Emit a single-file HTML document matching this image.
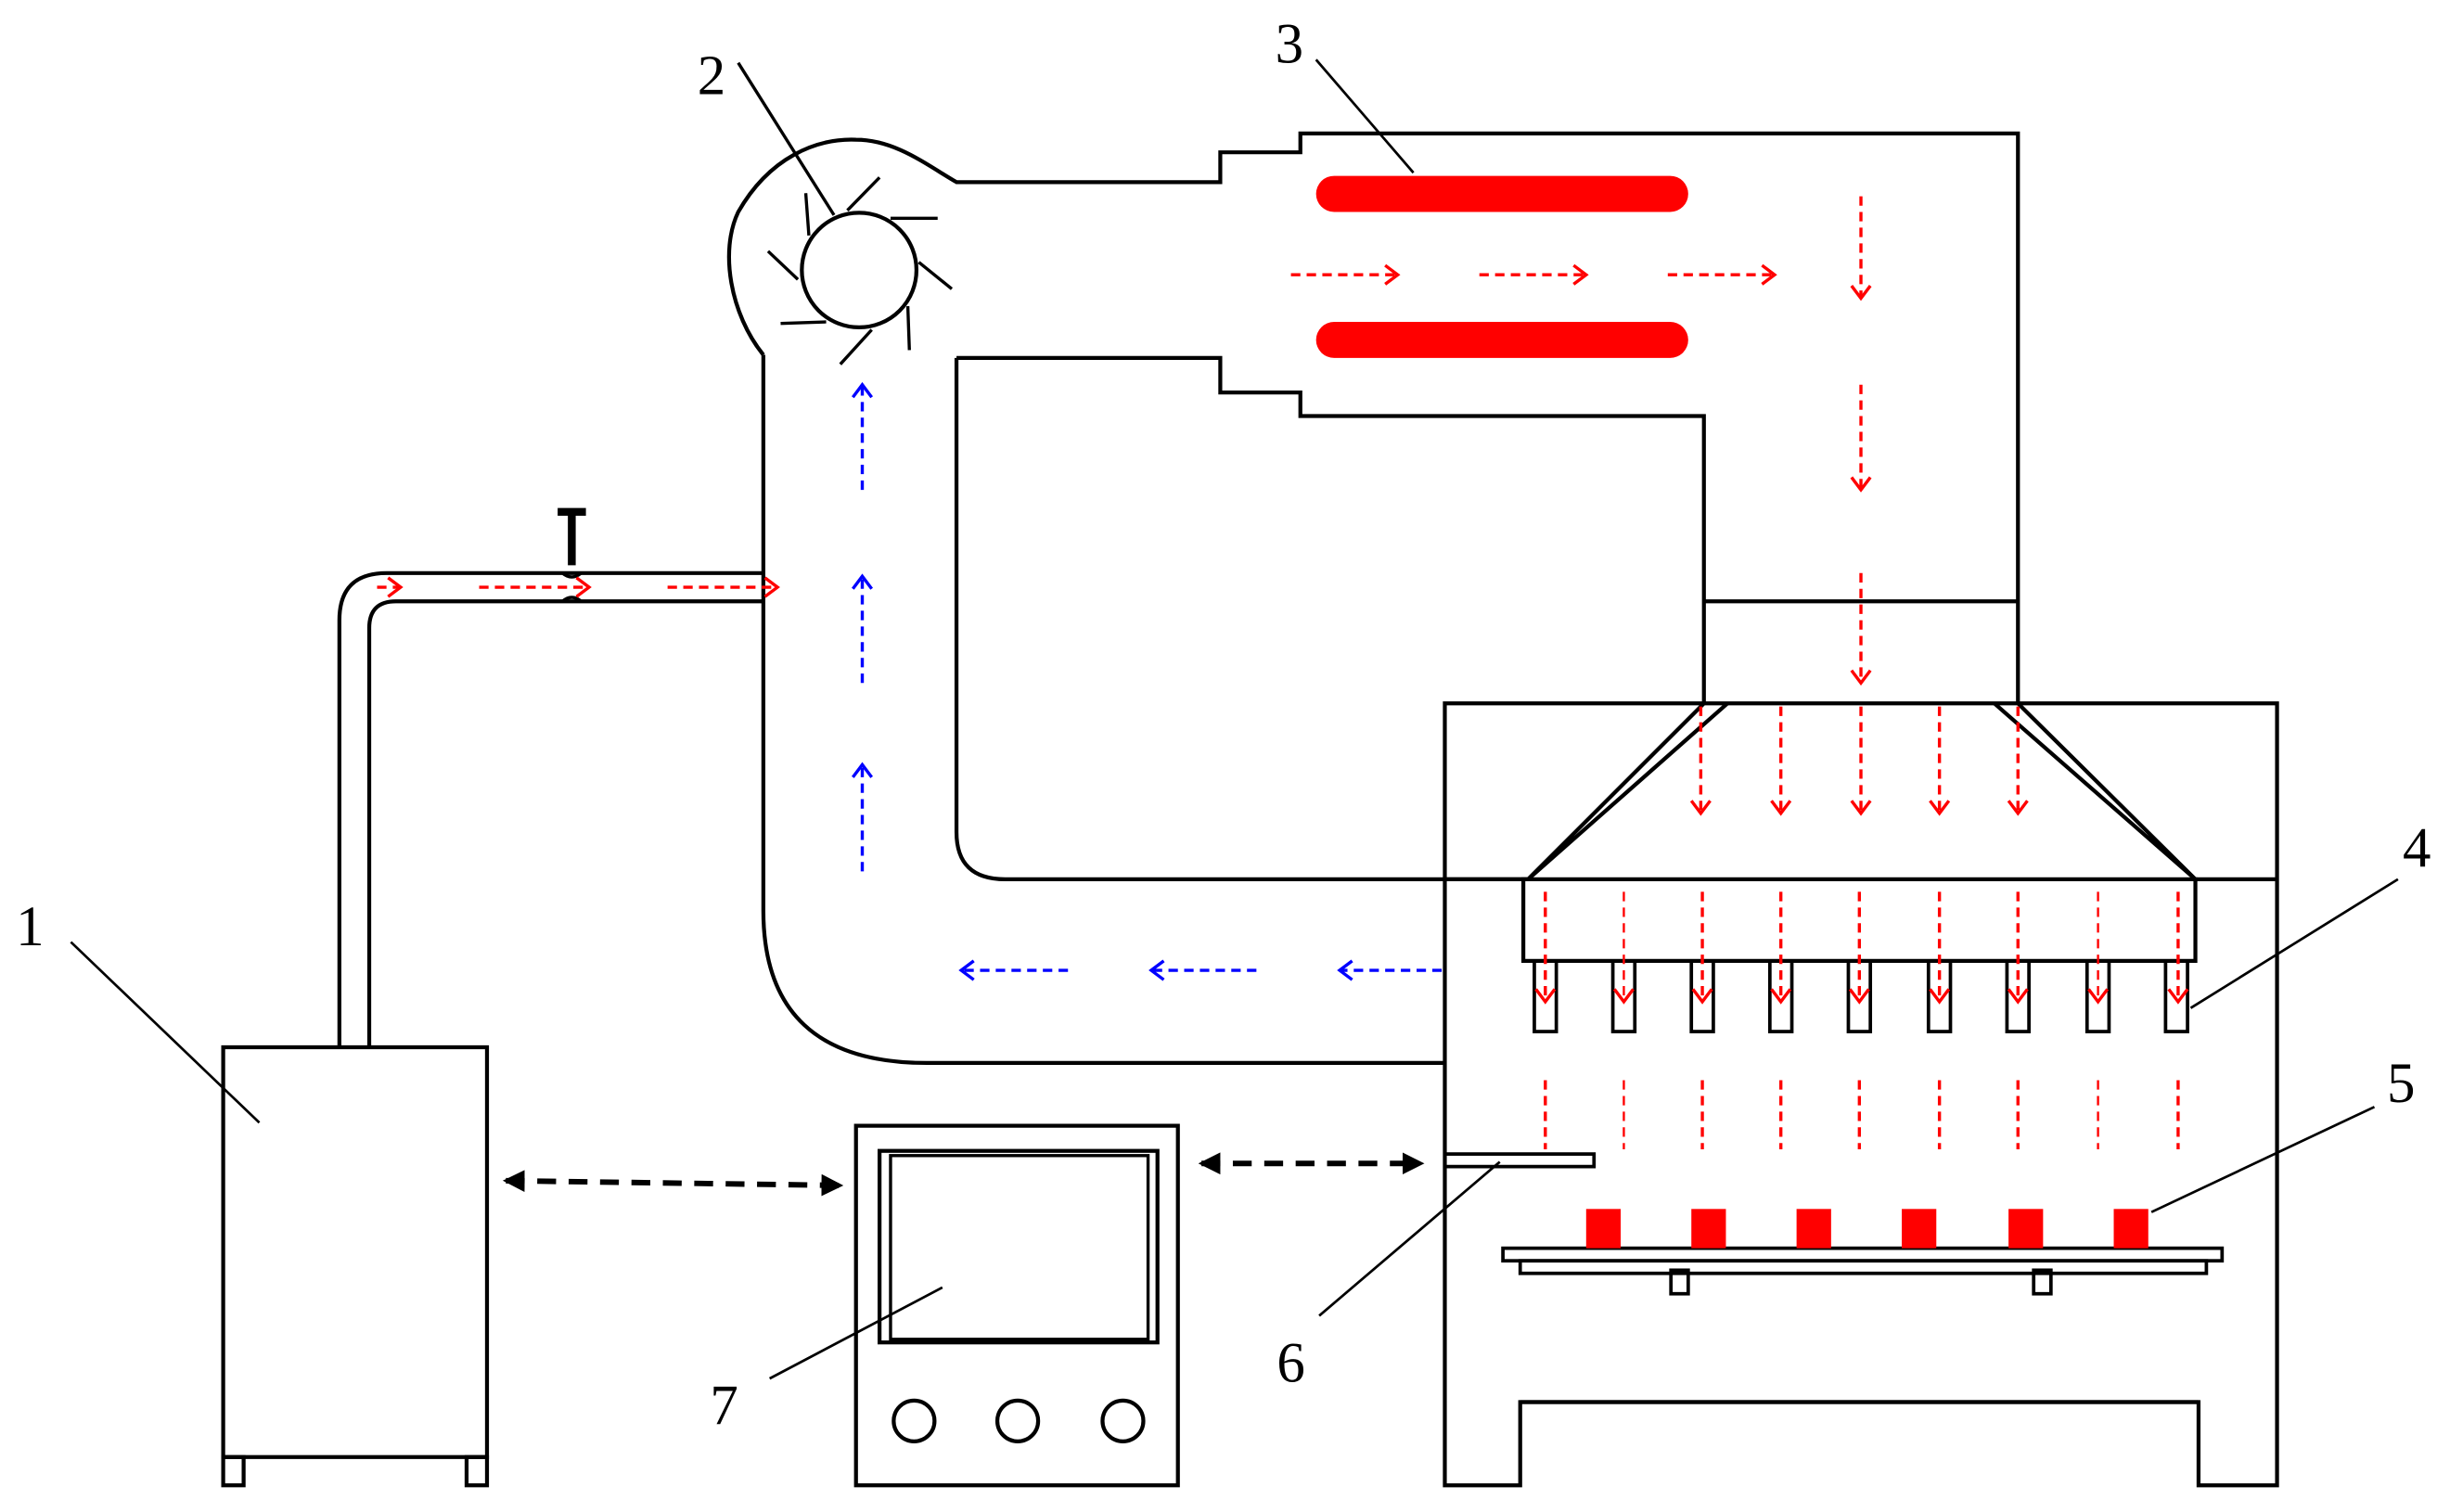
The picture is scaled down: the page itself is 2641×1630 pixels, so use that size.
<!DOCTYPE html>
<html><head><meta charset="utf-8"><style>html,body{margin:0;padding:0;background:#fff}svg{display:block}</style></head><body>
<svg width="2641" height="1630" viewBox="0 0 1560 963" xmlns="http://www.w3.org/2000/svg">
<defs>
<marker id="r" markerUnits="userSpaceOnUse" markerWidth="20" markerHeight="20" refX="10" refY="8" orient="auto"><path d="M2,2 L10,8 L2,14" fill="none" stroke="#f00" stroke-width="2"/></marker>
<marker id="b" markerUnits="userSpaceOnUse" markerWidth="20" markerHeight="20" refX="10" refY="8" orient="auto"><path d="M2,2 L10,8 L2,14" fill="none" stroke="#00f" stroke-width="2"/></marker>
<marker id="k" markerUnits="userSpaceOnUse" markerWidth="20" markerHeight="20" refX="12" refY="7" orient="auto-start-reverse"><path d="M0,0 L14,7 L0,14 Z" fill="#000"/></marker>
</defs>
<g fill="none" stroke="#000" stroke-width="2.5">
<!-- unit 1 -->
<rect x="142" y="667" width="168" height="261"/>
<rect x="142" y="928" width="13" height="18"/><rect x="297" y="928" width="13" height="18"/>
<!-- pipe -->
<path d="M216,667 V395 Q216,365 246,365 H486"/>
<path d="M235,667 V400 Q235,383 252,383 H486"/>
<path d="M355,326 H373 M364,326 V360" stroke-width="5"/>
<path d="M358,365 Q364,370 370,365 M358,383 Q364,378 370,383" stroke-width="2"/>
<!-- duct -->
<path d="M486,226 V580 Q486,677 590,677 H920"/>
<path d="M609,228 V530 Q609,560 640,560 H973"/>
<path d="M486,226 C465,200 458,160 470,135 C490,100 520,88 545,89 C570,89 590,105 609,116 H777 V97 H828 V85 H1285 V448"/>
<path d="M609,228 H777 V250 H828 V265 H1085 V448"/>
<path d="M1085,383 H1285"/>
<!-- fan -->
<circle cx="547" cy="172" r="36.5"/>
<g stroke-width="2">
<path d="M513,123 L515,150 M539.5,134 L560,113 M567,139 L597,139 M585,167 L606,184 M578,195 L579,223 M555,210 L535,232 M526,205 L497,206 M508,178 L489,160 M470,40 L531,137"/>
</g>
<!-- chamber -->
<path d="M920,448 H1450 V946 H1400 V893 H968 V946 H920 Z"/>
<path d="M968,893 H1400"/>
<path d="M920,560 H973 L1100,448 M1085,448 L973,560 M1398,560 H1450 M1285,448 L1398,560 L1270,448"/>
<rect x="970" y="560" width="428" height="52"/>
<g stroke-width="2.2">
<rect x="977" y="612" width="14" height="45"/><rect x="1027" y="612" width="14" height="45"/><rect x="1077" y="612" width="14" height="45"/><rect x="1127" y="612" width="14" height="45"/><rect x="1177" y="612" width="14" height="45"/><rect x="1228" y="612" width="14" height="45"/><rect x="1278" y="612" width="14" height="45"/><rect x="1329" y="612" width="14" height="45"/><rect x="1379" y="612" width="14" height="45"/>
<rect x="920" y="735" width="95" height="8"/>
<rect x="957" y="795" width="458" height="8"/><rect x="968" y="803" width="437" height="8"/>
<rect x="1064" y="809" width="11" height="15"/><rect x="1295" y="809" width="11" height="15"/>
</g>
<!-- controller -->
<rect x="545" y="717" width="205" height="229"/>
<rect x="560" y="733" width="177" height="122"/>
<rect x="567" y="736" width="164" height="117" stroke-width="2"/>
<circle cx="582" cy="905" r="13"/><circle cx="648" cy="905" r="13"/><circle cx="715" cy="905" r="13"/>
<!-- leaders -->
<g stroke-width="1.6">
<path d="M45,600 L165,715 M838,38 L900,110 M1527,560 L1395,642 M1512,705 L1370,772 M840,838 L955,740 M490,878 L600,820"/>
</g>
<!-- dashed black arrows -->
<path d="M322,752 L535,755" stroke-width="3.5" stroke-dasharray="12,8" marker-end="url(#k)" marker-start="url(#k)"/>
<path d="M765,741 L905,741" stroke-width="3.5" stroke-dasharray="12,8" marker-end="url(#k)" marker-start="url(#k)"/>
</g>
<!-- heaters & samples -->
<g fill="#f00">
<rect x="838" y="112" width="237" height="23" rx="11.5"/>
<rect x="838" y="205" width="237" height="23" rx="11.5"/>
<rect x="1010" y="770" width="22" height="25"/><rect x="1077" y="770" width="22" height="25"/><rect x="1144" y="770" width="22" height="25"/><rect x="1211" y="770" width="22" height="25"/><rect x="1279" y="770" width="22" height="25"/><rect x="1346" y="770" width="22" height="25"/>
</g>
<!-- red arrows -->
<g stroke="#f00" stroke-width="2" stroke-dasharray="6,4" fill="none" marker-end="url(#r)">
<path d="M240,374 H255"/><path d="M305,374 H375"/><path d="M425,374 H495"/>
<path d="M822,175 H890"/><path d="M942,175 H1010"/><path d="M1062,175 H1130"/>
<path d="M1185,125 V190"/><path d="M1185,245 V312"/><path d="M1185,365 V435"/>
<path d="M1083,450 V518"/><path d="M1134,450 V518"/><path d="M1185,450 V518"/><path d="M1235,450 V518"/><path d="M1285,450 V518"/>
<path d="M984,568 V638"/><path d="M1034,568 V638" stroke-width="1.4"/><path d="M1084,568 V638"/><path d="M1134,568 V638"/><path d="M1184,568 V638"/><path d="M1235,568 V638"/><path d="M1285,568 V638"/><path d="M1336,568 V638" stroke-width="1.4"/><path d="M1387,568 V638"/>
</g>
<g stroke="#f00" stroke-width="2" stroke-dasharray="6,4" fill="none">
<path d="M984,688 V732"/><path d="M1034,688 V732" stroke-width="1.4"/><path d="M1084,688 V732"/><path d="M1134,688 V732"/><path d="M1184,688 V732"/><path d="M1235,688 V732"/><path d="M1285,688 V732"/><path d="M1336,688 V732" stroke-width="1.4"/><path d="M1387,688 V732"/>
</g>
<!-- blue arrows -->
<g stroke="#00f" stroke-width="2" stroke-dasharray="6,4" fill="none" marker-end="url(#b)">
<path d="M549,312 V245"/><path d="M549,435 V367"/><path d="M549,555 V487"/>
<path d="M680,618 H612"/><path d="M800,618 H733"/><path d="M918,618 H853"/>
</g>
<g font-family="Liberation Serif, serif" font-size="36" fill="#000">
<text x="10" y="602">1</text><text x="444" y="60">2</text><text x="812" y="40">3</text><text x="1530" y="552">4</text><text x="1520" y="702">5</text><text x="813" y="880">6</text><text x="452" y="907">7</text>
</g>
</svg>
</body></html>
